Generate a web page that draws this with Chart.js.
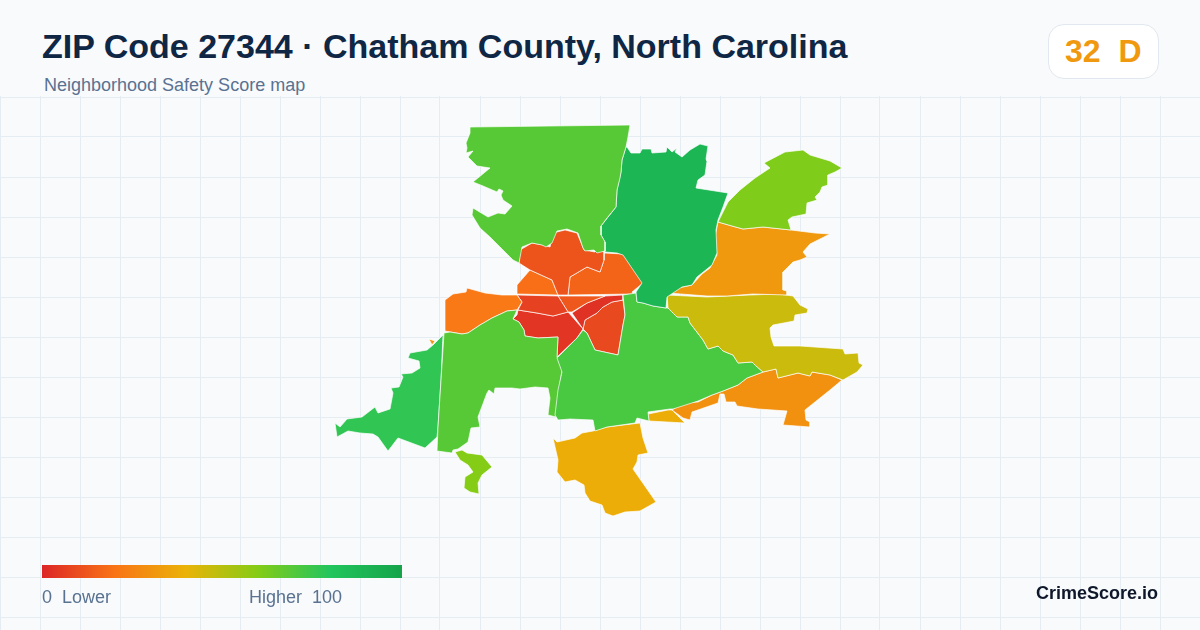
<!DOCTYPE html>
<html lang="en">

<head>
    <meta charset="UTF-8">
    <title>ZIP Code 27344</title>
    <script src="https://cdn.jsdelivr.net/npm/chart.js"></script>
    <style>
        html, body { margin: 0; padding: 0; }
        body { width: 1200px; height: 630px; overflow: hidden; background: #f8fafc; position: relative; font-family: "Liberation Sans", Arial, sans-serif; }
        #map { position: absolute; left: 0; top: 96px; }
        .txt { position: absolute; white-space: pre; line-height: 1; }
        #title { left: 42px; top: 29px; font-size: 34px; font-weight: 700; color: #0f2744; }
        #sub { left: 44px; top: 76px; font-size: 18px; color: #5a7291; }
        #badge { position: absolute; left: 1048px; top: 24px; width: 109px; height: 53px; box-sizing: content-box; background: #fff; border: 1px solid #e2e8f0; border-radius: 16px; }
        #score { left: 1065px; top: 35px; font-size: 32px; font-weight: 700; }
        #bar { position: absolute; left: 42px; top: 565px; width: 360px; height: 13px; background: linear-gradient(90deg, #dc2626, #f97316, #eab308, #84cc16, #22c55e, #16a34a); }
        #low { left: 42px; top: 588px; font-size: 18px; color: #5a7291; }
        #high { left: 249px; top: 588px; font-size: 18px; color: #5a7291; }
        #brand { left: 1036px; top: 584px; font-size: 18px; font-weight: 700; color: #0f172a; }
    </style>
</head>

<body>
    <canvas id="map" width="1200" height="534"></canvas>
    <div class="txt" id="title">ZIP Code 27344 · Chatham County, North Carolina</div>
    <div class="txt" id="sub">Neighborhood Safety Score map</div>
    <div id="badge"></div>
    <div class="txt" id="score"></div>
    <div id="bar"></div>
    <div class="txt" id="low">0  Lower</div>
    <div class="txt" id="high">Higher  100</div>
    <div class="txt" id="brand">CrimeScore.io</div>

    <script>
        const overallScore = 32
        const overallGrade = 'D'

        // colour ramp of the score legend
        const rampStops = [0, 20, 40, 60, 80, 100]
        const rampColors = [[220, 38, 38], [249, 115, 22], [234, 179, 8], [132, 204, 22], [34, 197, 94], [22, 163, 74]]

        // grid ticks
        const gridX = [0, 40, 80, 120, 160, 200, 240, 280, 320, 360, 400, 440, 480, 520, 560, 600, 640, 680, 720, 760, 800, 840, 880, 920, 960, 1000, 1040, 1080, 1120, 1160, 1200]
        const gridY = [97, 137, 177, 217, 257, 297, 337, 377, 417, 457, 497, 537, 577, 617]

        // neighbourhood outlines
        const northWest = [[470, 127], [630, 125], [628, 137], [626, 147], [622, 160], [621, 172], [620, 178], [617, 190], [616, 207], [607, 218], [601, 226], [601, 235], [605, 242], [605, 251], [597, 253], [594, 250], [585, 251], [583, 248], [578, 233], [567, 229], [557, 231], [552, 243], [546, 247], [542, 245], [532, 243], [522, 247], [519, 263], [513, 260], [493, 240], [490, 237], [480, 228], [472, 215], [473, 208], [488, 217], [498, 213], [505, 214], [512, 206], [503, 200], [501, 195], [503, 191], [499, 189], [497, 192], [483, 186], [473, 182], [490, 168], [477, 166], [468, 157], [473, 151], [466, 153], [467, 148], [466, 143], [470, 133]]
        const northCenter = [[627, 147], [631, 153], [640, 153], [642, 149], [651, 149], [652, 153], [666, 152], [667, 147], [672, 152], [677, 148], [675, 152], [682, 157], [690, 150], [700, 144], [708, 146], [706, 159], [707, 161], [705, 175], [698, 180], [696, 188], [728, 193], [723, 207], [718, 220], [716, 230], [717, 253], [712, 265], [697, 277], [692, 285], [682, 287], [673, 293], [667, 297], [666, 308], [653, 306], [643, 303], [637, 302], [636, 292], [642, 283], [623, 255], [617, 253], [605, 252], [605, 242], [601, 235], [601, 226], [616, 207], [617, 190], [621, 172], [622, 160], [626, 147]]
        const northEast = [[718, 222], [723, 212], [728, 202], [740, 190], [755, 178], [770, 168], [764, 163], [785, 152], [803, 150], [810, 155], [830, 161], [842, 168], [835, 172], [828, 175], [828, 185], [822, 187], [820, 192], [815, 197], [817, 200], [807, 203], [806, 214], [792, 217], [788, 220], [791, 230], [763, 227], [743, 229], [732, 226]]
        const eastUpper = [[718, 222], [732, 226], [743, 229], [763, 227], [791, 230], [807, 232], [815, 233], [830, 234], [820, 239], [810, 244], [803, 252], [807, 257], [800, 260], [793, 262], [783, 272], [783, 290], [787, 291], [787, 295], [753, 294], [727, 296], [707, 296], [668, 293], [673, 288], [683, 287], [692, 285], [702, 274], [710, 268], [717, 255], [715, 237]]
        const eastMiddle = [[667, 295], [707, 297], [750, 295], [778, 294], [793, 296], [800, 305], [808, 309], [807, 313], [795, 315], [794, 321], [773, 325], [770, 328], [771, 337], [774, 346], [800, 346], [843, 349], [845, 354], [858, 353], [859, 363], [863, 365], [857, 372], [843, 380], [830, 375], [812, 372], [810, 376], [798, 373], [778, 378], [776, 369], [763, 372], [755, 365], [752, 362], [738, 363], [733, 355], [723, 351], [718, 346], [708, 349], [703, 340], [690, 323], [688, 317], [677, 317], [668, 308]]
        const southCenter = [[623, 295], [636, 293], [637, 302], [643, 303], [653, 306], [666, 308], [668, 308], [677, 317], [688, 317], [690, 323], [703, 340], [708, 349], [718, 346], [723, 351], [733, 355], [738, 363], [752, 362], [755, 365], [763, 372], [747, 378], [738, 385], [723, 391], [712, 395], [698, 401], [673, 409], [670, 409], [648, 412], [649, 421], [637, 418], [635, 423], [607, 427], [595, 431], [593, 420], [570, 419], [558, 420], [555, 415], [558, 390], [562, 372], [557, 358], [577, 338], [583, 330], [587, 333], [595, 350], [618, 355], [623, 325], [625, 315]]
        const coreUpper = [[519, 263], [520, 250], [532, 243], [543, 245], [550, 247], [553, 233], [565, 230], [577, 233], [584, 250], [595, 252], [597, 249], [604, 252], [604, 260], [600, 272], [587, 267], [570, 277], [568, 295], [558, 295], [552, 280], [530, 270]]
        const coreRight = [[604, 253], [623, 254], [633, 268], [643, 283], [632, 292], [633, 294], [568, 295], [570, 277], [587, 267], [600, 272], [604, 260]]
        const coreLeft = [[530, 270], [552, 280], [558, 295], [517, 294], [517, 285]]
        const coreWest = [[517, 295], [558, 296], [568, 312], [553, 316], [537, 313], [518, 310], [522, 302]]
        const coreSouth = [[518, 310], [537, 313], [553, 316], [568, 312], [583, 329], [577, 338], [557, 357], [558, 337], [538, 338], [525, 336], [524, 330], [519, 322], [513, 319], [517, 315]]
        const coreMiddle = [[558, 296], [605, 296], [587, 303], [572, 312], [568, 312]]
        const coreStrip = [[605, 296], [623, 295], [623, 300], [612, 302], [603, 307], [597, 313], [585, 320], [583, 329], [572, 313], [587, 303]]
        const coreEast = [[623, 300], [625, 315], [623, 325], [618, 355], [595, 350], [587, 333], [583, 329], [585, 320], [597, 313], [603, 307], [612, 302]]
        const westOrange = [[445, 300], [453, 294], [466, 292], [467, 288], [485, 293], [502, 295], [517, 295], [522, 302], [517, 310], [507, 311], [492, 318], [480, 325], [468, 333], [462, 334], [445, 331]]
        const westSliver = [[429, 339], [435, 341], [432, 345]]
        const westGreen = [[444, 333], [450, 332], [462, 334], [468, 333], [480, 325], [492, 318], [507, 311], [517, 310], [513, 319], [519, 322], [524, 330], [525, 336], [538, 338], [558, 337], [557, 357], [562, 370], [560, 383], [556, 417], [548, 415], [550, 398], [548, 388], [535, 387], [520, 389], [512, 388], [495, 388], [494, 394], [489, 390], [487, 393], [478, 417], [480, 427], [471, 428], [468, 442], [458, 449], [453, 450], [452, 453], [437, 451], [438, 427], [441, 380]]
        const farWest = [[443, 335], [441, 380], [438, 427], [437, 437], [425, 448], [398, 438], [388, 451], [378, 437], [373, 434], [360, 433], [348, 431], [337, 437], [335, 423], [340, 427], [347, 419], [362, 417], [375, 407], [378, 413], [390, 409], [393, 393], [391, 388], [399, 387], [403, 377], [401, 374], [412, 373], [420, 368], [419, 361], [408, 358], [410, 353], [427, 350], [433, 345]]
        const southWestLime = [[455, 452], [462, 450], [467, 453], [482, 455], [492, 467], [482, 475], [478, 483], [479, 494], [470, 492], [464, 488], [465, 477], [473, 472], [468, 465], [460, 460]]
        const southAmber = [[593, 431], [607, 427], [640, 423], [643, 438], [648, 453], [638, 455], [637, 462], [633, 469], [656, 502], [640, 511], [625, 512], [613, 516], [605, 513], [602, 505], [590, 501], [585, 493], [584, 485], [575, 480], [565, 482], [557, 472], [558, 460], [553, 438], [557, 442], [575, 438], [582, 433]]
        const southSliver = [[648, 414], [668, 410], [672, 410], [685, 423], [649, 421]]
        const southEast = [[672, 410], [683, 403], [698, 402], [712, 395], [723, 391], [738, 385], [747, 378], [763, 372], [776, 369], [778, 378], [798, 373], [810, 376], [812, 372], [830, 375], [842, 380], [830, 390], [820, 398], [805, 410], [806, 420], [810, 422], [810, 427], [783, 425], [787, 411], [773, 410], [758, 409], [737, 406], [735, 402], [726, 402], [724, 394], [720, 394], [718, 403], [692, 412], [690, 420], [683, 418]]

        const regionShapes = [northWest, northCenter, northEast, eastUpper, eastMiddle, southCenter, westGreen, farWest, southWestLime, southAmber, southSliver, southEast, westOrange, westSliver, coreUpper, coreRight, coreLeft, coreWest, coreSouth, coreMiddle, coreStrip, coreEast]
        const regionScores = [69, 89, 61, 32, 46, 72, 69, 77, 60, 38, 38, 29, 22, 30, 12, 16, 19, 7, 4, 13, 3, 9]

        function scoreColor(score) {
            let i = 0
            while (i < rampStops.length - 2 && score > rampStops[i + 1]) i++
            const t = (score - rampStops[i]) / (rampStops[i + 1] - rampStops[i])
            const c = rampColors[i].map((v, k) => Math.round(v + (rampColors[i + 1][k] - v) * t))
            return `rgb(${c[0]}, ${c[1]}, ${c[2]})`
        }

        const scoreEl = document.getElementById('score')
        scoreEl.textContent = overallScore + '  ' + overallGrade
        scoreEl.style.color = scoreColor(overallScore)

        const gridColor = '#e6edf2'

        new Chart(document.getElementById('map'), {
            type: 'scatter',
            data: {
                datasets: regionShapes.map((shape, i) => ({
                    data: shape.concat([shape[0]]).map(p => ({ x: p[0], y: p[1] })),
                    showLine: true,
                    fill: 'shape',
                    tension: 0,
                    pointRadius: 0,
                    backgroundColor: scoreColor(regionScores[i]),
                    borderColor: 'rgba(255, 255, 255, 0.85)',
                    borderWidth: 0.8
                }))
            },
            options: {
                responsive: false,
                animation: false,
                events: [],
                layout: { padding: 0 },
                plugins: { legend: { display: false }, tooltip: { enabled: false } },
                scales: {
                    x: {
                        type: 'linear', min: 0, max: 1200,
                        afterBuildTicks: scale => { scale.ticks = gridX.map(v => ({ value: v })) },
                        ticks: { display: false },
                        border: { display: false },
                        grid: { color: gridColor, drawTicks: false }
                    },
                    y: {
                        type: 'linear', reverse: true, min: 96, max: 630,
                        afterBuildTicks: scale => { scale.ticks = gridY.map(v => ({ value: v })) },
                        ticks: { display: false },
                        border: { display: false },
                        grid: { color: gridColor, drawTicks: false }
                    }
                }
            }
        })
    </script>
</body>

</html>
